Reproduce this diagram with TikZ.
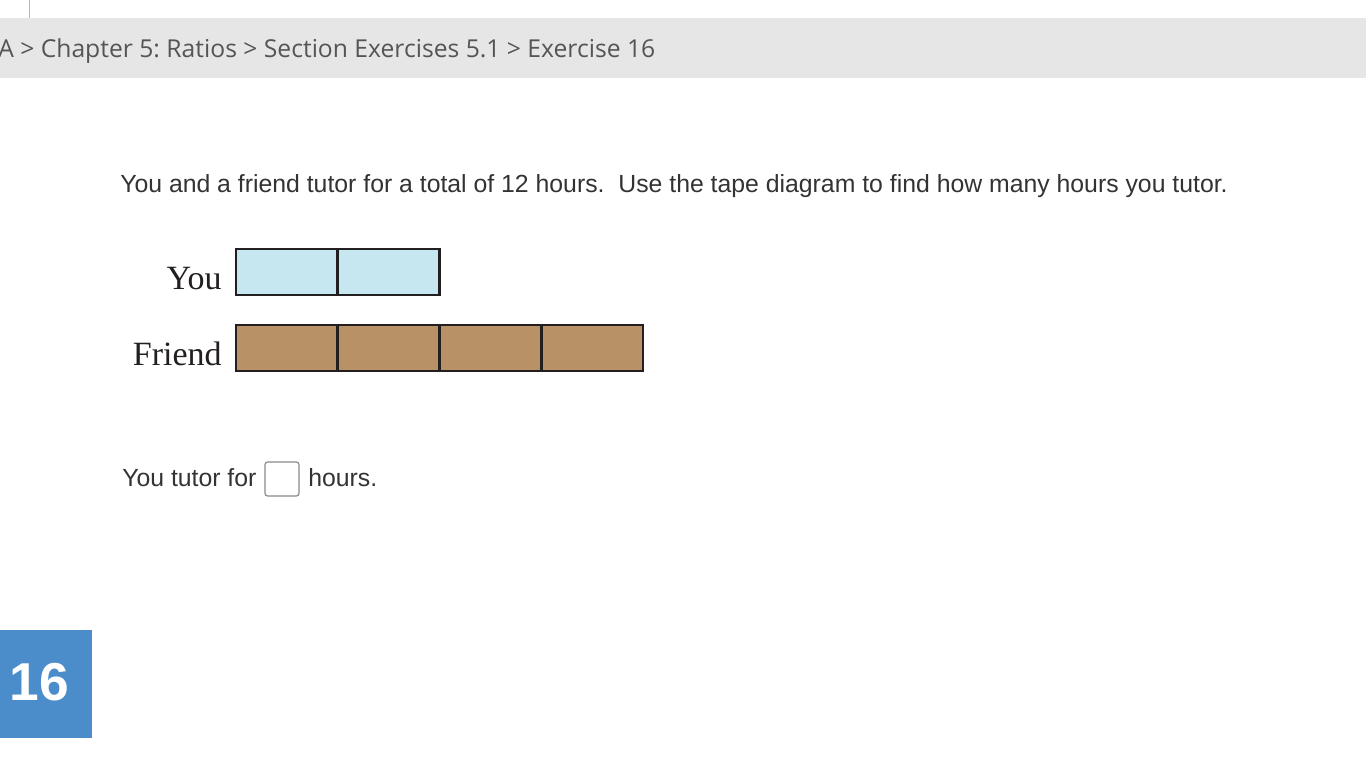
\documentclass[tikz,border=0pt]{standalone}
\usepackage{fontspec}
\setmainfont{Liberation Sans}
\newfontfamily\crumbfont{Open Sans}
\newfontfamily\labelfont{Liberation Serif}
\frenchspacing
\definecolor{bargray}{HTML}{E6E6E6}
\definecolor{crumbtext}{HTML}{555555}
\definecolor{maintext}{HTML}{333333}
\definecolor{youblue}{HTML}{C6E7EF}
\definecolor{friendbrown}{HTML}{B89166}
\definecolor{tapeline}{HTML}{231F20}
\definecolor{badge}{HTML}{4B8DCB}
\definecolor{boxgray}{HTML}{8A8A8A}
\tikzset{
  cell/.style={draw=tapeline, line width=1.9pt, minimum width=76.3pt, minimum height=34.5pt, inner sep=0pt, outer sep=0pt},
  youcell/.style={cell, fill=youblue},
  friendcell/.style={cell, fill=friendbrown},
  tapelabel/.style={anchor=base east, inner sep=0pt, font=\labelfont\fontsize{25.5}{30}\selectfont, text=tapeline},
  bodytext/.style={anchor=base west, inner sep=0pt, font=\fontsize{18.6}{22}\selectfont, text=maintext}
}
\begin{document}
\begin{tikzpicture}[x=0.75pt,y=-0.75pt]
\useasboundingbox (0,0) rectangle (1366,768);
\fill[white] (0,0) rectangle (1366,768);
\fill[bargray] (0,18) rectangle (1366,78);
\draw[bargray!80!black, line width=0.75pt] (29,0) -- (29,18);
\node[anchor=base west, inner sep=0pt, font=\crumbfont\fontsize{18.5}{22}\selectfont, text=crumbtext] (crumb) at (-2,57) {A > Chapter 5: Ratios > Section Exercises 5.1 > Exercise 16};
\node[bodytext] (question) at (120,192) {You and a friend tutor for a total of 12 hours.\ \ Use the tape diagram to find how many hours you tutor.};
\node[tapelabel] (youlabel) at (222,289) {You};
\node[tapelabel] (friendlabel) at (222,365) {Friend};
\foreach \i in {0,1} {
  \node[youcell] (you\i) at ({236+101.75*(\i+0.5)},272) {};
}
\foreach \i in {0,1,2,3} {
  \node[friendcell] (friend\i) at ({236+101.75*(\i+0.5)},348) {};
}
\node[bodytext] (answerA) at (122,486) {You tutor for};
\node[draw=boxgray, line width=0.9pt, rounded corners=2pt, minimum width=25.5pt, minimum height=25.5pt, inner sep=0pt, fill=white] (answerbox) at (282,479) {};
\node[bodytext] (answerB) at (308,486) {hours.};
\fill[badge] (0,630) rectangle (92,738);
\node[inner sep=0pt, font=\bfseries\fontsize{40}{46}\selectfont, text=white] (badgenum) at (39.5,682) {16};
\end{tikzpicture}
\end{document}
